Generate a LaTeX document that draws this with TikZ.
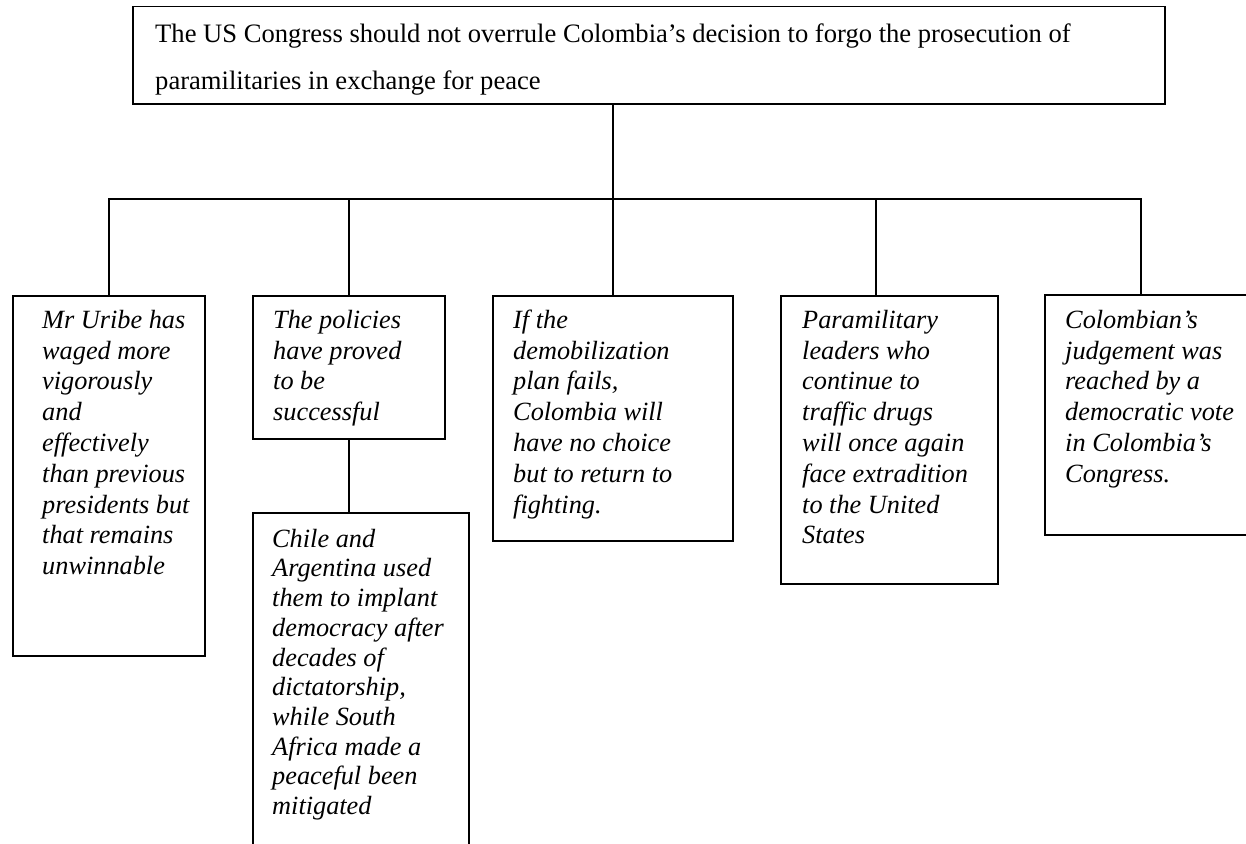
\documentclass[tikz,border=0pt]{standalone}
\usepackage{fontspec}
\setmainfont{Liberation Serif}
% fixed ascent for the first line of every text block
\newcommand{\firstline}{\rule{0pt}{20pt}}
\begin{document}
\begin{tikzpicture}[x=1pt,y=-1pt,
  frame/.style={draw=black, line width=1.5pt, inner sep=0pt, anchor=north west},
  claim/.style={anchor=north west, inner sep=0pt, align=left,
    font=\fontsize{26.6}{47}\selectfont},
  reason/.style={anchor=north west, inner sep=0pt, align=left,
    font=\fontsize{26.3}{30.8}\selectfont\itshape},
  link/.style={draw=black, line width=1.5pt, line join=miter}]
\useasboundingbox (0,0) rectangle (1246,843);
\clip (0,0) rectangle (1246,843);
\fill[white] (0,0) rectangle (1246,843);

% boxes
\node[frame, minimum width=1032pt, minimum height=97pt]  (top) at (132,6) {};
\node[frame, minimum width=192pt,  minimum height=360pt] (b1)  at (12,295) {};
\node[frame, minimum width=192pt,  minimum height=143pt] (b2)  at (252,295) {};
\node[frame, minimum width=240pt,  minimum height=245pt] (b3)  at (492,295) {};
\node[frame, minimum width=217pt,  minimum height=288pt] (b4)  at (780,295) {};
\node[frame, minimum width=222pt,  minimum height=240pt] (b5)  at (1044,294) {};
\node[frame, minimum width=216pt,  minimum height=350pt] (b6)  at (252,512) {};

% texts (first baseline sits 20pt below the given point)
\node[claim] (ttop) at (155,22) {\firstline The US Congress should not overrule Colombia’s decision to forgo the prosecution of\\paramilitaries in exchange for peace};
\node[reason] (t1) at (42,308) {\firstline Mr Uribe has\\waged more\\vigorously\\and\\effectively\\than previous\\presidents but\\that remains\\unwinnable};
\node[reason] (t2) at (273,308) {\firstline The policies\\have proved\\to be\\successful};
\node[reason] (t3) at (513,308) {\firstline If the\\demobilization\\plan fails,\\Colombia will\\have no choice\\but to return to\\fighting.};
\node[reason] (t4) at (802,308) {\firstline Paramilitary\\leaders who\\continue to\\traffic drugs\\will once again\\face extradition\\to the United\\States};
\node[reason] (t5) at (1065,308) {\firstline Colombian’s\\judgement was\\reached by a\\democratic vote\\in Colombia’s\\Congress.};
\node[reason, font=\fontsize{26.3}{29.7}\selectfont\itshape] (t6) at (272,527) {\firstline Chile and\\Argentina used\\them to implant\\democracy after\\decades of\\dictatorship,\\while South\\Africa made a\\peaceful been\\mitigated};

% connectors
\coordinate (j) at (b3.north |- 0,199);
\coordinate (b4t) at ([xshift=96pt]b4.north west);
\coordinate (b5t) at ([xshift=97pt]b5.north west);
\draw[link] (top.south -| j) -- (j);
\draw[link] (b1.north) -- (b1.north |- j) -- (b5t |- j) -- (b5t);
\draw[link] (b2.north) -- (b2.north |- j);
\draw[link] (b3.north) -- (j);
\draw[link] (b4t) -- (b4t |- j);
\draw[link] (b2.south) -- (b2.south |- b6.north);
\end{tikzpicture}
\end{document}
